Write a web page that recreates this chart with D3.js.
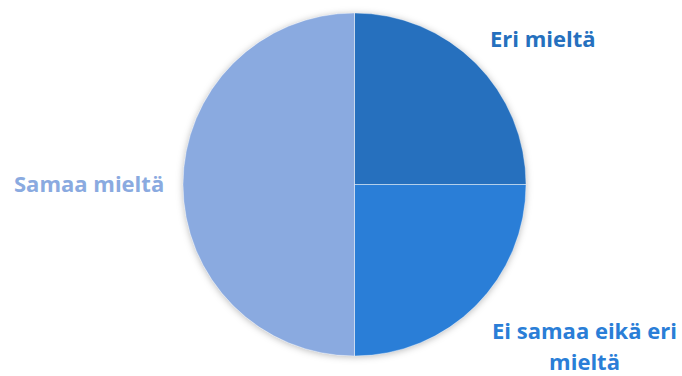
<!DOCTYPE html>
<html>
<head>
<meta charset="utf-8">
<script src="https://cdn.jsdelivr.net/npm/d3@7"></script>
<style>
  html, body { margin: 0; padding: 0; background: #fff; }
  svg { display: block; }
  text { font-family: "Open Sans", Lato, sans-serif; font-weight: bold; }
</style>
</head>
<body>
<svg id="chart" width="682" height="376"></svg>
<script>
// Answer shares (percent), in drawing order clockwise from 12 o'clock
const categories = ["Eri mieltä", "Ei samaa eikä eri mieltä", "Samaa mieltä"];
const values = [25, 25, 50];
const colors = ["#2570BE", "#2A7ED7", "#8AAAE0"];

const svg = d3.select("#chart");
const cx = 354.5, cy = 184.5, R = 171.5;

const defs = svg.append("defs");
const f = defs.append("filter").attr("id", "shadow")
  .attr("x", "-20%").attr("y", "-20%").attr("width", "140%").attr("height", "140%");
f.append("feDropShadow").attr("dx", 0).attr("dy", 1).attr("stdDeviation", 3.5)
  .attr("flood-color", "#000").attr("flood-opacity", 0.28);

const pie = d3.pie().sort(null).value(d => d);
const arc = d3.arc().innerRadius(0).outerRadius(R);

const g = svg.append("g").attr("transform", `translate(${cx},${cy})`);
const arcs = pie(values);

g.append("g").attr("filter", "url(#shadow)")
  .selectAll("path").data(arcs).join("path")
  .attr("d", arc)
  .attr("fill", (d, i) => colors[i]);

// thin light separators between slices
g.append("g").selectAll("path").data(arcs).join("path")
  .attr("d", arc)
  .attr("fill", "none")
  .attr("stroke", "rgba(255,255,255,0.35)")
  .attr("stroke-width", 1);

// slice labels, split into lines where they wrap
const labelLines = [["Eri mieltä"], ["Ei samaa eikä eri", "mieltä"], ["Samaa mieltä"]];
const labelPos = [
  { x: 490, y: 47, anchor: "start" },
  { x: 584.5, y: 339, anchor: "middle" },
  { x: 14, y: 192, anchor: "start" }
];

labelLines.forEach((lines, i) => {
  const p = labelPos[i];
  const t = svg.append("text")
    .attr("x", p.x).attr("y", p.y)
    .attr("text-anchor", p.anchor)
    .attr("fill", colors[i])
    .attr("font-size", 22);
  lines.forEach((s, j) => {
    t.append("tspan").attr("x", p.x).attr("dy", j === 0 ? 0 : 31).text(s);
  });
});
</script>
</body>
</html>
